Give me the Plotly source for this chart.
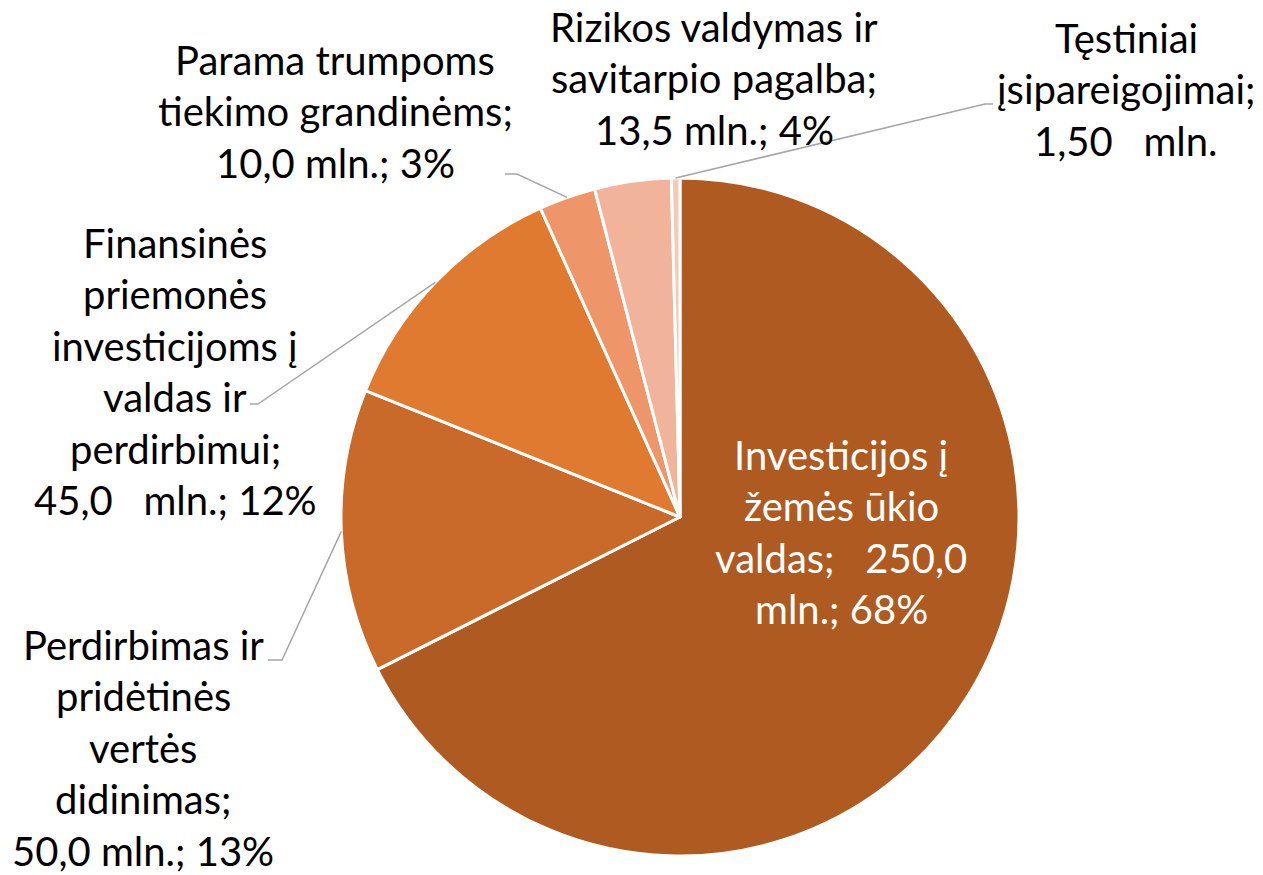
import math
import plotly.graph_objects as go

# ---- data ----
categories = [
    "Investicijos į žemės ūkio valdas",
    "Perdirbimas ir pridėtinės vertės didinimas",
    "Finansinės priemonės investicijoms į valdas ir perdirbimui",
    "Parama trumpoms tiekimo grandinėms",
    "Rizikos valdymas ir savitarpio pagalba",
    "Tęstiniai įsipareigojimai",
]
values = [250.0, 50.0, 45.0, 10.0, 13.5, 1.50]
value_labels = ["250,0", "50,0", "45,0", "10,0", "13,5", "1,50"]
pct_labels = ["68%", "13%", "12%", "3%", "4%", ""]
colors = ["#AE5A21", "#C96A2A", "#E07A30", "#EF956A", "#F2B39B", "#F5C9B8"]

# wrapped label text (as in the reference)
label_lines = [
    ["Investicijos į", "žemės ūkio", "valdas;   {v}", "mln.; {p}"],
    ["Perdirbimas ir", "pridėtinės", "vertės", "didinimas;", "{v} mln.; {p}"],
    ["Finansinės", "priemonės", "investicijoms į", "valdas ir", "perdirbimui;", "{v}   mln.; {p}"],
    ["Parama trumpoms", "tiekimo grandinėms;", "{v} mln.; {p}"],
    ["Rizikos valdymas ir", "savitarpio pagalba;", "{v} mln.; {p}"],
    ["Tęstiniai", "įsipareigojimai;", "{v}   mln."],
]

W, H = 1263, 875
cx, cy, R = 680, 517, 339
FS = 40
LINE_GAP = 51.5

fig = go.Figure(go.Pie(
    labels=categories, values=values, sort=False, direction="clockwise", rotation=0,
    marker=dict(colors=colors, line=dict(color="white", width=3)),
    textinfo="none", hoverinfo="label+value+percent", showlegend=False,
    domain=dict(x=[(cx - R) / W, (cx + R) / W], y=[1 - (cy + R) / H, 1 - (cy - R) / H]),
))

# label placement: centre x and first-line baseline (pixels), leader-line elbows
label_pos = [(841, 470), (143, 660), (175, 258), (335, 75), (714, 42), (1126, 53)]
elbows = [None, [(282, 660), (268, 660)], [(258, 404), (250, 404)],
          [(517, 174), (505, 174)], None, [(985, 104), (993, 104)]]

total = sum(values)
cum = 0.0
shapes = []
annotations = []
for i, v in enumerate(values):
    mid = (cum + v / 2) / total * 2 * math.pi
    cum += v
    lx, ly = label_pos[i]
    for k, line in enumerate(label_lines[i]):
        t = line.format(v=value_labels[i], p=pct_labels[i]).replace("   ", "\u00a0\u00a0\u00a0")
        base = ly + k * LINE_GAP
        annotations.append(dict(
            x=lx / W, y=1 - (base - 0.387 * FS) / H, xref="paper", yref="paper",
            text=t, showarrow=False, xanchor="center", yanchor="middle",
            font=dict(family="Lato, 'Open Sans', sans-serif", size=FS,
                      color="white" if i == 0 else "black"),
        ))
    if elbows[i]:
        sx = cx + R * math.sin(mid)
        sy = cy - R * math.cos(mid)
        pts = [(sx, sy)] + elbows[i]
        path = "M " + " L ".join(f"{x / W:.5f},{1 - y / H:.5f}" for x, y in pts)
        shapes.append(dict(type="path", path=path, xref="paper", yref="paper",
                           line=dict(color="#A6A6A6", width=1.5)))

fig.update_layout(
    width=W, height=H, margin=dict(l=0, r=0, t=0, b=0),
    paper_bgcolor="white", plot_bgcolor="white",
    shapes=shapes, annotations=annotations,
)
fig.write_html("out.html", config={"displayModeBar": False})

# remove the default page margin so the figure sits at the window's top-left corner
with open("out.html", encoding="utf-8") as f:
    html = f.read()
html = html.replace("<head>", "<head><style>html,body{margin:0;padding:0;overflow:hidden;}</style>", 1)
with open("out.html", "w", encoding="utf-8") as f:
    f.write(html)
